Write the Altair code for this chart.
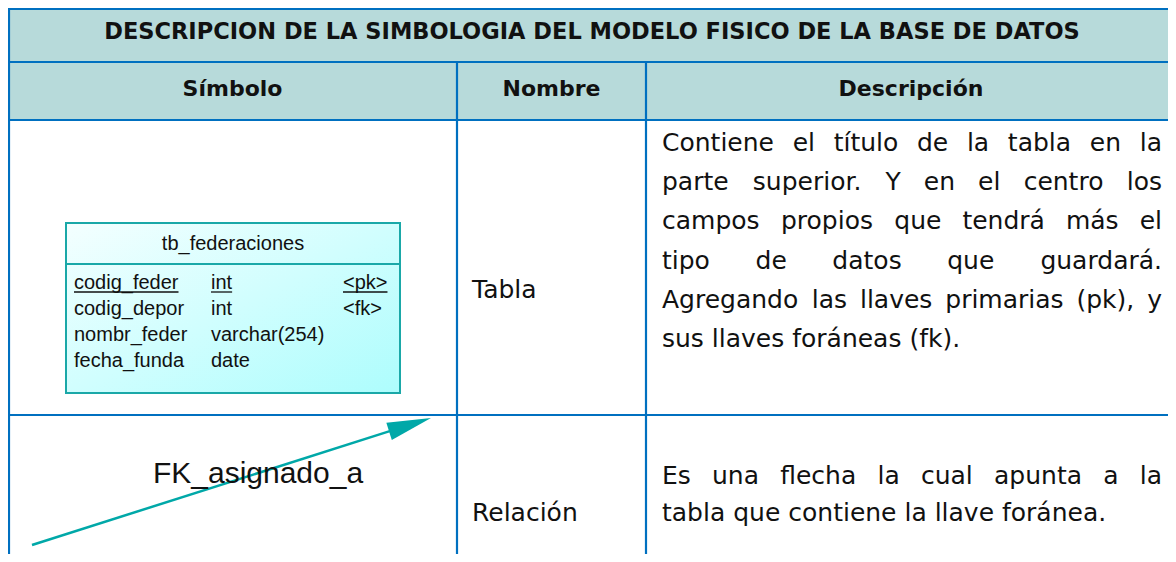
import altair as alt
import pandas as pd
import math

# ---------------- data (text content) ----------------
title_text = ["DESCRIPCION DE LA SIMBOLOGIA DEL MODELO FISICO DE LA BASE DE DATOS"]
header_names = ["Símbolo", "Nombre", "Descripción"]
row_names = ["Tabla", "Relación"]
row_descriptions = [
    ["Contiene el título de la tabla en la",
     "parte superior. Y en el centro los",
     "campos propios que tendrá más el",
     "tipo de datos que guardará.",
     "Agregando las llaves primarias (pk), y",
     "sus llaves foráneas (fk)."],
    ["Es una flecha la cual apunta a la",
     "tabla que contiene la llave foránea."],
]
entity_name = ["tb_federaciones"]
field_names = ["codig_feder", "codig_depor", "nombr_feder", "fecha_funda"]
field_types = ["int", "int", "varchar(254)", "date"]
field_keys = ["<pk>", "<fk>", "", ""]
primary_flags = [True, False, False, False]
relation_name = ["FK_asignado_a"]

# ---------------- layout ----------------
W, H = 1160, 546
col_edges = [8, 457, 646, 1168]
row_edges = [5, 62, 120, 415, 554]
TOP = 9
LEFT = 9
BLUE = "#0070C0"
HEAD_FILL = "#B7DADA"
TEAL = "#00A8A8"
DESC_FONT = "DejaVu Sans"
DESC_SIZE = 25

xs = alt.Scale(domain=[8, 1168], nice=False, zero=False)
ys = alt.Scale(domain=[554, 8], nice=False, zero=False)


def X(f="x"):
    return alt.X(f"{f}:Q", scale=xs, axis=None)


def Y(f="y"):
    return alt.Y(f"{f}:Q", scale=ys, axis=None)


# DejaVu Sans approximate advance widths (em)
DJV = {' ': .318, 'a': .613, 'b': .635, 'c': .550, 'd': .635, 'e': .615, 'f': .352,
       'g': .635, 'h': .634, 'i': .278, 'j': .278, 'k': .579, 'l': .278, 'm': .974,
       'n': .634, 'o': .612, 'p': .635, 'q': .635, 'r': .411, 's': .521, 't': .392,
       'u': .634, 'v': .592, 'w': .818, 'x': .592, 'y': .592, 'z': .525,
       'A': .684, 'C': .698, 'E': .632, 'Y': .611, 'T': .611, '.': .318, ',': .318,
       '(': .390, ')': .390, 'á': .613, 'í': .278, 'ó': .612, 'é': .615}
ARIAL = {'c': .5, 'o': .556, 'd': .556, 'i': .222, 'g': .556, '_': .556, 'f': .278,
         'e': .556, 'r': .333, 'n': .556, 't': .278, '<': .584, 'p': .556, 'k': .5,
         '>': .584}


def djv_width(s, size):
    return sum(DJV.get(ch, .6) for ch in s) * size


def arial_width(s, size):
    return sum(ARIAL.get(ch, .556) for ch in s) * size


layers = []

# header fill
fill_df = pd.DataFrame({"x": [col_edges[0]], "x2": [col_edges[-1]],
                        "y": [TOP], "y2": [row_edges[2]]})
layers.append(alt.Chart(fill_df).mark_rect(color=HEAD_FILL).encode(
    x=X(), x2="x2:Q", y=Y(), y2="y2:Q"))

# grid lines
lines = []
for yv in [TOP, row_edges[1], row_edges[2], row_edges[3]]:
    lines.append({"x": col_edges[0], "x2": col_edges[-1], "y": yv, "y2": yv})
lines.append({"x": LEFT, "x2": LEFT, "y": TOP, "y2": row_edges[-1]})
for xv in col_edges[1:3]:
    lines.append({"x": xv, "x2": xv, "y": row_edges[1], "y2": row_edges[-1]})
layers.append(alt.Chart(pd.DataFrame(lines)).mark_rule(color=BLUE, strokeWidth=2.2).encode(
    x=X(), x2="x2:Q", y=Y(), y2="y2:Q"))

# title
tdf = pd.DataFrame({"x": [(col_edges[0] + 1176) / 2], "y": [32], "t": title_text})
layers.append(alt.Chart(tdf).mark_text(font=DESC_FONT, fontSize=22.5, fontWeight="bold",
                                       color="#111111", align="center", baseline="middle").encode(
    x=X(), y=Y(), text="t:N"))

# headers
hdf = pd.DataFrame({"x": [232.5, 551.5, 911],
                    "y": [89] * 3, "t": header_names})
layers.append(alt.Chart(hdf).mark_text(font=DESC_FONT, fontSize=22, fontWeight="bold",
                                       color="#111111", align="center", baseline="middle").encode(
    x=X(), y=Y(), text="t:N"))

# row names
name_y = [290, 513]
ndf = pd.DataFrame({"x": [472] * 2, "y": name_y, "t": row_names})
layers.append(alt.Chart(ndf).mark_text(font=DESC_FONT, fontSize=DESC_SIZE, color="#111111",
                                       align="left", baseline="middle").encode(
    x=X(), y=Y(), text="t:N"))

# descriptions (justified word by word)
L, R = 662, 1162
line_y = [[143 + 39.2 * i for i in range(6)], [476, 513]]
words = []
for para, ylist in zip(row_descriptions, line_y):
    for li, (line, yv) in enumerate(zip(para, ylist)):
        ws = line.split(" ")
        last = li == len(para) - 1
        if last or len(ws) == 1:
            words.append({"x": L, "y": yv, "t": line, "a": "left"})
            continue
        widths = [djv_width(w, DESC_SIZE) for w in ws]
        gap = (R - L - sum(widths)) / (len(ws) - 1)
        pos = L
        for k, (w, wd) in enumerate(zip(ws, widths)):
            if k == 0:
                words.append({"x": L, "y": yv, "t": w, "a": "left"})
            elif k == len(ws) - 1:
                words.append({"x": R, "y": yv, "t": w, "a": "right"})
            else:
                words.append({"x": pos + wd / 2, "y": yv, "t": w, "a": "center"})
            pos += wd + gap
wdf = pd.DataFrame(words)
for a in ["left", "center", "right"]:
    sub = wdf[wdf["a"] == a]
    layers.append(alt.Chart(sub).mark_text(font=DESC_FONT, fontSize=DESC_SIZE, color="#111111",
                                           align=a, baseline="middle").encode(
        x=X(), y=Y(), text="t:N"))

# entity box
bx0, bx1, by0, by1, bsep = 66, 400, 223, 393, 264
box_df = pd.DataFrame({"x": [bx0], "x2": [bx1], "y": [by0], "y2": [by1]})
grad = alt.Gradient(gradient="linear", x1=0, y1=0, x2=1, y2=1,
                    stops=[alt.GradientStop(color="#F4FFFF", offset=0),
                           alt.GradientStop(color="#ADFDFD", offset=1)])
layers.append(alt.Chart(box_df).mark_rect(fill=grad, stroke="#1AA8A8", strokeWidth=2).encode(
    x=X(), x2="x2:Q", y=Y(), y2="y2:Q"))
sep_df = pd.DataFrame({"x": [bx0], "x2": [bx1], "y": [bsep], "y2": [bsep]})
layers.append(alt.Chart(sep_df).mark_rule(color="#1AA8A8", strokeWidth=2).encode(
    x=X(), x2="x2:Q", y=Y(), y2="y2:Q"))

TFONT = "Liberation Sans"
TSIZE = 20
edf = pd.DataFrame({"x": [(bx0 + bx1) / 2], "y": [250], "t": entity_name})
layers.append(alt.Chart(edf).mark_text(font=TFONT, fontSize=TSIZE, color="#111111",
                                       align="center", baseline="alphabetic").encode(
    x=X(), y=Y(), text="t:N"))
col_x = [74, 211, 343]
row_base = [289, 315, 341, 367]
frows = []
ulines = []
for i in range(4):
    for cx, val in zip(col_x, [field_names[i], field_types[i], field_keys[i]]):
        if val:
            frows.append({"x": cx, "y": row_base[i], "t": val})
            if primary_flags[i]:
                ulines.append({"x": cx, "x2": cx + arial_width(val, TSIZE),
                               "y": row_base[i] + 3, "y2": row_base[i] + 3})
layers.append(alt.Chart(pd.DataFrame(frows)).mark_text(font=TFONT, fontSize=TSIZE, color="#111111",
                                                        align="left", baseline="alphabetic").encode(
    x=X(), y=Y(), text="t:N"))
layers.append(alt.Chart(pd.DataFrame(ulines)).mark_rule(color="#111111", strokeWidth=1.3).encode(
    x=X(), x2="x2:Q", y=Y(), y2="y2:Q"))

# relation arrow
tail = (32, 545)
tip = (431, 418)
head_len, head_half = 44, 9
dx, dy = tip[0] - tail[0], tip[1] - tail[1]
dist = math.hypot(dx, dy)
ux, uy = dx / dist, dy / dist
base = (tip[0] - ux * head_len, tip[1] - uy * head_len)
arrow_df = pd.DataFrame({"x": [tail[0]], "x2": [base[0] + ux * 4], "y": [tail[1]], "y2": [base[1] + uy * 4]})
layers.append(alt.Chart(arrow_df).mark_rule(color=TEAL, strokeWidth=2.5).encode(
    x=X(), x2="x2:Q", y=Y(), y2="y2:Q"))
angle = math.degrees(math.atan2(dx, -dy)) % 360
hw = head_half / (head_len / 2)
head_path = f"M0,-1L{hw:.3f},1L{-hw:.3f},1Z"
head_df = pd.DataFrame({"x": [(tip[0] + base[0]) / 2], "y": [(tip[1] + base[1]) / 2]})
layers.append(alt.Chart(head_df).mark_point(shape=head_path, filled=True, size=head_len ** 2,
                                            angle=angle, color=TEAL, opacity=1, strokeWidth=0).encode(
    x=X(), y=Y()))
fk_df = pd.DataFrame({"x": [258], "y": [474], "t": relation_name})
layers.append(alt.Chart(fk_df).mark_text(font=TFONT, fontSize=30, color="#111111",
                                         align="center", baseline="middle").encode(
    x=X(), y=Y(), text="t:N"))

chart = alt.layer(*layers).properties(
    width=W, height=H, padding=0, autosize=alt.AutoSizeParams(type="none"),
    background="white"
).configure_view(strokeWidth=0)

chart.save("out.html", embed_options={"renderer": "svg", "actions": False})
